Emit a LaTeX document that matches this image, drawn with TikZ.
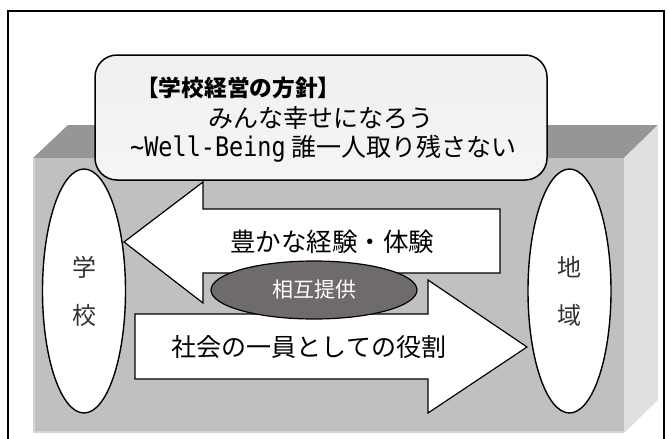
\documentclass[tikz,border=0pt]{standalone}
\usepackage{fontspec}
\setmainfont{Noto Sans CJK JP}
\newfontfamily\monof{DejaVu Sans Mono}[FakeStretch=0.87]
\usetikzlibrary{shapes.geometric}
\definecolor{topgray}{HTML}{969696}
\definecolor{frontgray}{HTML}{C0C0C0}
\definecolor{sidegray}{HTML}{E0E0E0}
\definecolor{edgegray}{HTML}{D4D4D4}
\definecolor{mutualfill}{HTML}{6F6B6B}
\begin{document}
\begin{tikzpicture}[x=1pt,y=-1pt,
  frameline/.style={line width=1.5pt,black},
  blockarrow/.style={draw=black,line width=1.2pt,fill=white,line join=miter},
  sideoval/.style={ellipse,draw=black,line width=1.4pt,fill=white,minimum width=83pt,minimum height=244pt,inner sep=0pt,align=center,text=black!80,font=\fontsize{24}{48}\selectfont},
  arrowtext/.style={inner sep=0pt,font=\fontsize{25.5}{30}\selectfont},
  titletext/.style={inner sep=0pt,anchor=base west,font=\fontsize{25}{30}\selectfont}
]
\useasboundingbox (0,0) rectangle (667,439);
% outer frame
\draw[frameline] (8,445) -- (8,11) -- (664,11) -- (664,445);
% gray 3D box
\fill[topgray] (33,158) -- (68,125) -- (658,125) -- (624,158) -- cycle;
\fill[sidegray] (624,158) -- (658,125) -- (658,400) -- (624,433) -- cycle;
\fill[frontgray] (33,158) rectangle (624,433);
\draw[edgegray,line width=2pt] (34,158) -- (34,432) -- (624,432);
% side ovals
\node[sideoval] (school) at (84,291) {学\\校};
\node[sideoval] (region) at (569.5,291) {地\\域};
% block arrows
\draw[blockarrow] (124,242) -- (203,182) -- (203,209) -- (500,209) -- (500,273) -- (203,273) -- (203,303) -- cycle;
\draw[blockarrow] (527,347) -- (428,280) -- (428,314) -- (135,314) -- (135,379) -- (428,379) -- (428,413) -- cycle;
\node[arrowtext] (experience) at (332,242) {豊かな経験・体験};
\node[arrowtext,font=\fontsize{25}{30}\selectfont] (role) at (309,347) {社会の一員としての役割};
% mutual provision
\node[ellipse,draw=black,line width=1.2pt,fill=mutualfill,minimum width=206pt,minimum height=58pt,inner sep=0pt,text=white,font=\fontsize{21}{21}\selectfont] (mutual) at (314,290) {相互提供};
% policy box
\node[draw=black,line width=1.5pt,rounded corners=22pt,top color=white!94!black,middle color=white!80!black,bottom color=white!96!black,minimum width=452pt,minimum height=125pt,inner sep=0pt] (policy) at (321,117.5) {};
\node[titletext,font=\fontsize{22.7}{28}\selectfont\bfseries] (t1) at (136,96.5) {【学校経営の方針】};
\node[titletext] (t2) at (208,127.5) {みんな幸せになろう};
\node[titletext] (t3) at (130,156.5) {{\monof\fontsize{27}{30}\selectfont\char"7E Well-Being}\hspace{6pt}誰一人取り残さない};
\end{tikzpicture}
\end{document}
